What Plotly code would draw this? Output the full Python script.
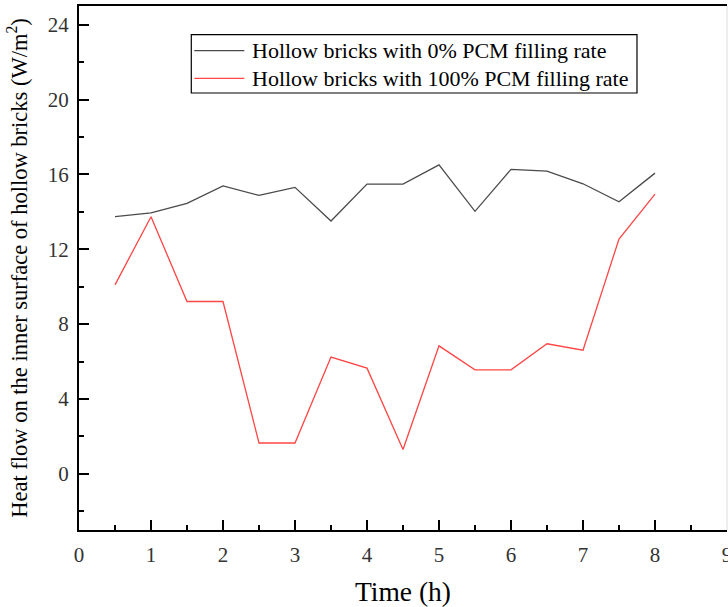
import plotly.graph_objects as go

time_h = [0.5, 1, 1.5, 2, 2.5, 3, 3.5, 4, 4.5, 5, 5.5, 6, 6.5, 7, 7.5, 8]
pcm_0 = [13.74, 13.94, 14.45, 15.39, 14.88, 15.31, 13.51, 15.48, 15.48, 16.51,
         14.03, 16.27, 16.18, 15.50, 14.54, 16.07]
pcm_100 = [10.10, 13.74, 9.21, 9.21, 1.65, 1.65, 6.24, 5.65, 1.30, 6.84,
           5.56, 5.56, 6.95, 6.61, 12.55, 14.95]
series_names = ["Hollow bricks with 0% PCM filling rate",
                "Hollow bricks with 100% PCM filling rate"]
series_colors = ["#4a4a4a", "#ff4545"]
x_ticks = list(range(0, 10))
y_ticks = [0, 4, 8, 12, 16, 20, 24]

FONT = "Liberation Serif, Times New Roman, serif"

fig = go.Figure()
for vals, name, col in zip([pcm_0, pcm_100], series_names, series_colors):
    fig.add_trace(go.Scatter(x=time_h, y=vals, mode="lines", name=name,
                             line=dict(color=col, width=1.3), showlegend=False))

# Custom legend box (paper coordinates) to match compact row spacing
leg_x0, leg_x1, leg_y0, leg_y1 = 0.1733, 0.8611, 0.834, 0.9452
row_y = [0.9147, 0.862]
line_x0, line_x1, text_x = 0.1779, 0.2551, 0.2639

shapes = [
    dict(type="rect", xref="paper", yref="paper", x0=leg_x0, x1=leg_x1, y0=leg_y0, y1=leg_y1,
         line=dict(color="#000", width=1.2), fillcolor="white", layer="above"),
    dict(type="line", xref="paper", yref="paper", x0=1, x1=1, y0=0, y1=1,
         line=dict(color="#dddddd", width=1)),
]
annotations = []
for name, col, ry in zip(series_names, series_colors, row_y):
    shapes.append(dict(type="line", xref="paper", yref="paper", x0=line_x0, x1=line_x1,
                       y0=ry, y1=ry, line=dict(color=col, width=1.3), layer="above"))
    annotations.append(dict(xref="paper", yref="paper", x=text_x, y=ry, xanchor="left",
                            yanchor="middle", text=name, showarrow=False,
                            font=dict(family=FONT, size=22, color="#000")))

fig.update_layout(
    width=728, height=607,
    margin=dict(l=79, r=1, t=6, b=77, autoexpand=False),
    paper_bgcolor="white", plot_bgcolor="white",
    font=dict(family=FONT, color="#000"),
    showlegend=False,
    xaxis=dict(range=[0, 9], tickvals=x_ticks, ticktext=[str(v) for v in x_ticks],
               ticks="inside", ticklen=10, tickwidth=2, tickcolor="#000",
               showline=True, linecolor="#000", linewidth=2, mirror=True,
               showgrid=False, zeroline=False, ticklabeloverflow="allow",
               ticklabelstandoff=5, automargin=False,
               minor=dict(ticks="inside", ticklen=5, tickwidth=2, tickcolor="#000", dtick=0.5, tick0=0),
               tickfont=dict(family=FONT, size=21, color="#333"),
               title=dict(text="Time (h)", font=dict(family=FONT, size=27.5, color="#000"), standoff=16)),
    yaxis=dict(range=[-3, 25], tickvals=y_ticks, ticktext=[str(v) for v in y_ticks],
               ticks="inside", ticklen=10, tickwidth=2, tickcolor="#000",
               showline=True, linecolor="#000", linewidth=2, mirror=False,
               showgrid=False, zeroline=False, ticklabelstandoff=4, automargin=False,
               minor=dict(ticks="inside", ticklen=5, tickwidth=2, tickcolor="#000", dtick=2, tick0=0),
               tickfont=dict(family=FONT, size=21, color="#333"),
               title=dict(text="Heat flow on the inner surface of hollow bricks (W/m<sup>2</sup>)",
                          font=dict(family=FONT, size=22.5, color="#000"), standoff=14)),
    shapes=shapes,
    annotations=annotations,
)

fig.write_html("out.html")
